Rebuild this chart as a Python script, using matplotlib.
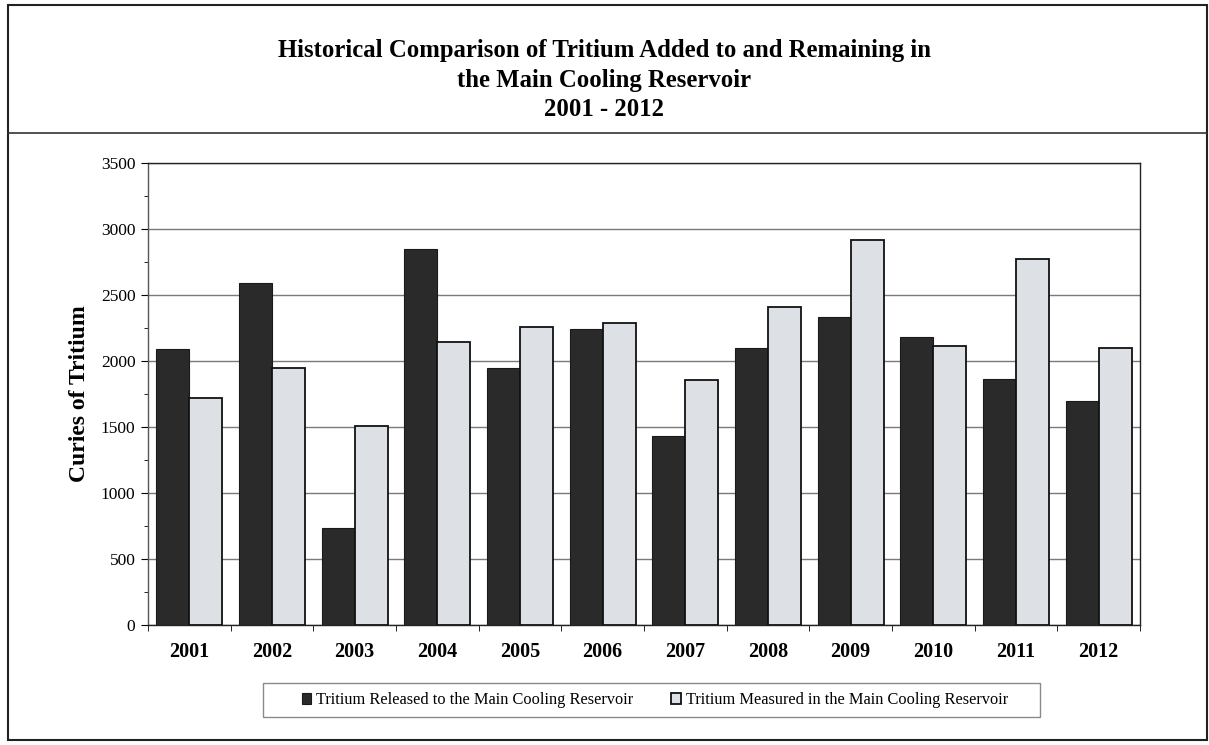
import numpy as np
import matplotlib.pyplot as plt
from matplotlib.lines import Line2D
from matplotlib.ticker import MultipleLocator

plt.rcParams['font.family'] = ['Liberation Serif', 'DejaVu Serif']

years = ['2001', '2002', '2003', '2004', '2005', '2006',
         '2007', '2008', '2009', '2010', '2011', '2012']
released = [2090, 2590, 735, 2850, 1945, 2240, 1430, 2100, 2335, 2180, 1860, 1700]
measured = [1720, 1950, 1505, 2145, 2255, 2290, 1855, 2410, 2920, 2110, 2770, 2100]

fig = plt.figure(figsize=(12.09, 7.45), dpi=100)
ax = fig.add_axes([0.1224, 0.1611, 0.8205, 0.6201])

x = np.arange(len(years))
w = 0.4
b1 = ax.bar(x - w / 2, released, w, color='#2a2a2a', edgecolor='#1a1a1a',
            linewidth=0.8, zorder=3,
            label='Tritium Released to the Main Cooling Reservoir')
b2 = ax.bar(x + w / 2, measured, w, color='#dde0e4', edgecolor='#111111',
            linewidth=1.3, zorder=3,
            label='Tritium Measured in the Main Cooling Reservoir')

ax.set_xlim(-0.5, len(years) - 0.5)
ax.set_ylim(0, 3500)
ax.yaxis.set_major_locator(MultipleLocator(500))
ax.yaxis.set_minor_locator(MultipleLocator(250))
ax.yaxis.grid(True, color='#7a7a7a', linewidth=1.0, zorder=0)

ax.set_xticks(x)
ax.set_xticklabels(years, fontsize=14.5, fontweight='bold')
ax.set_xticks(np.arange(-0.5, len(years)), minor=True)
ax.tick_params(axis='x', which='major', length=0, pad=12)
ax.tick_params(axis='x', which='minor', length=4, direction='out')
ax.tick_params(axis='y', which='major', length=5, labelsize=12.5, pad=4)
ax.tick_params(axis='y', which='minor', length=3)

for side in ['top', 'right', 'left', 'bottom']:
    ax.spines[side].set_color('#222222')
    ax.spines[side].set_linewidth(1.0)
ax.spines['left'].set_color('#555555')

ax.set_ylabel('Curies of Tritium', fontsize=17, fontweight='bold', labelpad=8)

# legend without its own frame; the box is drawn below in figure coords
leg = ax.legend(handles=[b1, b2], loc='center', bbox_to_anchor=(0.511, -0.163),
                ncol=2, frameon=False, fontsize=11.8,
                handlelength=0.6, handleheight=0.6, handletextpad=0.3,
                columnspacing=2.3)
fig.add_artist(plt.Rectangle((263 / 1209, 1 - 717 / 745), 777 / 1209, 34 / 745,
                             transform=fig.transFigure, fill=False,
                             edgecolor='#8a8a8a', linewidth=1.0))

fig.text(0.5, 0.948,
         'Historical Comparison of Tritium Added to and Remaining in\n'
         'the Main Cooling Reservoir\n2001 - 2012',
         ha='center', va='top', fontsize=17.8, fontweight='bold',
         linespacing=1.38)

# outer frame and title divider
fig.add_artist(plt.Rectangle((0.0066, 0.0067), 0.9917, 0.986,
                             transform=fig.transFigure, fill=False,
                             edgecolor='#222222', linewidth=1.5))
fig.add_artist(Line2D([0.0066, 0.9983], [0.8215, 0.8215],
                      transform=fig.transFigure, color='#333333',
                      linewidth=1.2))

fig.savefig('out.png', dpi=100)
